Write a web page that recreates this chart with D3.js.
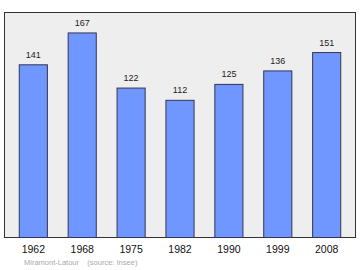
<!DOCTYPE html>
<html>
<head>
<meta charset="utf-8">
<script src="https://cdn.jsdelivr.net/npm/d3@7"></script>
<style>
  body { margin: 0; background: #fff; }
  svg { display: block; font-family: "Liberation Sans", Arial, sans-serif; }
</style>
</head>
<body>
<svg width="360" height="270"></svg>
<script>
const years = ["1962", "1968", "1975", "1982", "1990", "1999", "2008"];
const population = [141, 167, 122, 112, 125, 136, 151];
const footer = "Miramont-Latour    (source: Insee)";

// Frame of the plot area
const frame = { left: 4.5, top: 12.5, right: 355.5, bottom: 237.5 };

const svg = d3.select("svg");

// Scales
const xScale = d3.scaleBand()
                .domain(years)
                .range([frame.left + 4.5, frame.right - 4.5])
                .paddingInner(0.425)
                .paddingOuter(0.21);

const yScale = d3.scaleLinear()
                .domain([0, d3.max(population) * 1.1])
                .range([frame.bottom, frame.top]);

// Background frame
svg.append("rect")
   .attr("x", frame.left)
   .attr("y", frame.top)
   .attr("width", frame.right - frame.left)
   .attr("height", frame.bottom - frame.top)
   .attr("fill", "#eeeeee")
   .attr("stroke", "#333")
   .attr("stroke-width", 1);

// Bars
svg.selectAll("rect.bar")
   .data(population)
   .enter()
   .append("rect")
   .attr("class", "bar")
   .attr("x", (d, i) => xScale(years[i]))
   .attr("y", d => yScale(d))
   .attr("width", xScale.bandwidth())
   .attr("height", d => frame.bottom - yScale(d))
   .attr("fill", "#7097ff")
   .attr("stroke", "#333355")
   .attr("stroke-width", 1);

// Value labels
svg.selectAll("text.value")
   .data(population)
   .enter()
   .append("text")
   .attr("class", "value")
   .attr("x", (d, i) => xScale(years[i]) + xScale.bandwidth() / 2)
   .attr("y", d => yScale(d) - 7)
   .attr("text-anchor", "middle")
   .attr("font-size", "9px")
   .attr("fill", "#222")
   .text(d => d);

// Year labels
const xAxis = d3.axisBottom(xScale).tickSize(0).tickPadding(8.5);
svg.append("g")
   .attr("transform", `translate(0, ${frame.bottom})`)
   .call(xAxis)
   .call(g => g.select(".domain").remove())
   .selectAll("text")
   .attr("font-size", "10.5px")
   .attr("font-family", "Liberation Sans, Arial, sans-serif")
   .attr("fill", "#111");

// Footer
svg.append("text")
   .attr("x", 24)
   .attr("y", 265)
   .attr("font-size", "7.5px")
   .attr("fill", "#aaaaaa")
   .attr("xml:space", "preserve")
   .style("white-space", "pre")
   .text(footer);
</script>
</body>
</html>
